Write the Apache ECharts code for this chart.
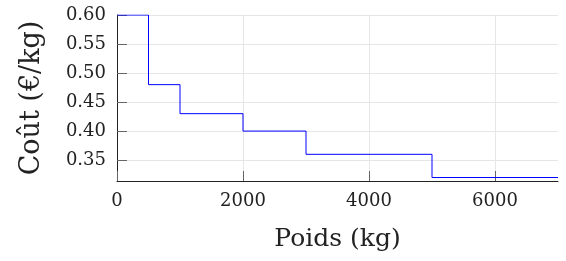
<!DOCTYPE html>
<html>
<head>
<meta charset="utf-8">
<script src="https://cdn.jsdelivr.net/npm/echarts@6/dist/echarts.min.js"></script>
<style>
  html, body { margin: 0; padding: 0; background: #fff; }
  #chart { width: 566px; height: 261px; }
</style>
</head>
<body>
<div id="chart"></div>
<script>
  // paliers de poids (kg) et coût correspondant (€/kg)
  const poids = [0, 500, 1000, 2000, 3000, 5000, 7000];
  const cout = [0.60, 0.48, 0.43, 0.40, 0.36, 0.32, 0.32];
  const xTicks = [0, 2000, 4000, 6000];
  const yTicks = [0.35, 0.40, 0.45, 0.50, 0.55, 0.60];

  const police = 'DejaVu Serif';
  const xMin = 0, xMax = 7000;
  const yMin = 0.314, yMax = 0.60;
  const grille = { show: true, lineStyle: { color: '#e6e6e6', width: 1 } };
  const tick = { show: true, inside: true, length: 10, lineStyle: { color: '#666', width: 1 } };
  const chart = echarts.init(document.getElementById('chart'));

  chart.setOption({
    animation: false,
    backgroundColor: '#ffffff',
    grid: { left: 117, right: 8, top: 15, bottom: 80 },
    xAxis: [{
      // grille seule, dessinée en premier (derrière les ticks)
      type: 'value',
      position: 'bottom',
      min: xMin,
      max: xMax,
      z: 0,
      axisLine: { show: false },
      axisTick: { show: false, customValues: xTicks },
      axisLabel: { show: false, customValues: xTicks },
      splitLine: grille
    }, {
      // axe principal (ticks, labels)
      type: 'value',
      position: 'bottom',
      min: xMin,
      max: xMax,
      z: 3,
      name: 'Poids (kg)',
      nameLocation: 'middle',
      nameGap: 46,
      nameTextStyle: { fontFamily: police, fontSize: 25, color: '#222' },
      axisLine: { show: true, lineStyle: { color: '#222', width: 1 } },
      axisTick: Object.assign({ customValues: xTicks }, tick),
      axisLabel: {
        customValues: xTicks, fontFamily: police, fontSize: 18, color: '#222', margin: 11,
        formatter: v => String(v)
      },
      splitLine: { show: false }
    }],
    yAxis: [{
      type: 'value',
      position: 'left',
      min: yMin,
      max: yMax,
      z: 0,
      axisLine: { show: false },
      axisTick: { show: false, customValues: yTicks },
      axisLabel: { show: false, customValues: yTicks },
      splitLine: grille
    }, {
      type: 'value',
      position: 'left',
      min: yMin,
      max: yMax,
      z: 3,
      name: 'Coût (€/kg)',
      nameLocation: 'middle',
      nameGap: 72,
      nameTextStyle: { fontFamily: police, fontSize: 27, color: '#222' },
      axisLine: { show: true, lineStyle: { color: '#222', width: 1 } },
      axisTick: Object.assign({ customValues: yTicks }, tick),
      axisLabel: {
        customValues: yTicks, fontFamily: police, fontSize: 18, color: '#222', margin: 11,
        formatter: v => v.toFixed(2)
      },
      splitLine: { show: false }
    }],
    series: [{
      type: 'line',
      step: 'end',
      xAxisIndex: 1,
      yAxisIndex: 1,
      z: 5,
      data: poids.map((p, i) => [p, cout[i]]),
      showSymbol: false,
      lineStyle: { color: '#0000ff', width: 1 }
    }]
  });
</script>
</body>
</html>
